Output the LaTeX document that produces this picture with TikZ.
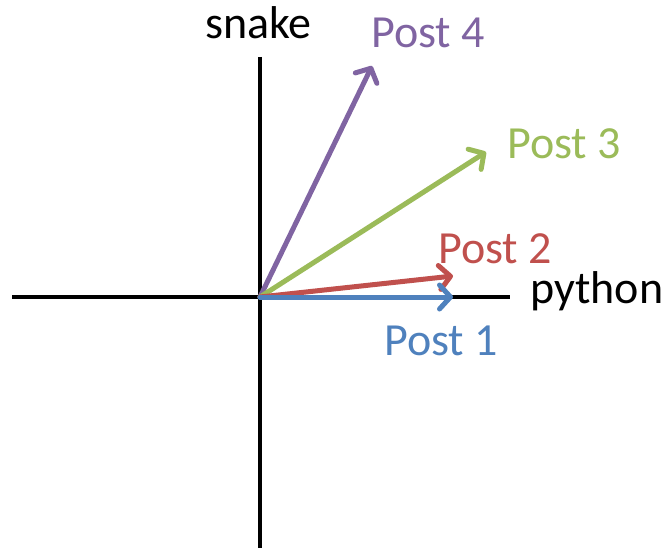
\documentclass[tikz,border=0pt]{standalone}
\usepackage{fontspec}
\setmainfont{Carlito}
\usetikzlibrary{arrows.meta}
\definecolor{pblue}{HTML}{4F81BD}
\definecolor{pred}{HTML}{C0504D}
\definecolor{pgreen}{HTML}{9BBB59}
\definecolor{ppurple}{HTML}{8064A2}
\tikzset{
  axis/.style={line width=4.5pt, black},
  vec/.style={line width=5pt, line cap=round, -{Straight Barb[length=11pt, width=24pt, round, line width=5pt]}},
  lbl/.style={anchor=base west, inner sep=0pt, font=\fontsize{46}{50}\selectfont}
}
\begin{document}
\begin{tikzpicture}[x=1pt, y=-1pt]
\useasboundingbox (0,0) rectangle (668,548);
\coordinate (O) at (260,297);
\coordinate (xl) at (12,297);
\coordinate (xr) at (510,297);
\coordinate (yt) at (260,57);
\coordinate (yb) at (260,548);
\coordinate (p1) at (453,297);
\coordinate (p2) at (453,276);
\coordinate (p3) at (486,152);
\coordinate (p4) at (372,66);
\draw[axis] (xl) -- (xr);
\draw[axis] (yt) -- (yb);
\draw[vec, ppurple] (O) -- (p4);
\draw[vec, pgreen] (O) -- (p3);
\draw[vec, pred] (O) -- (p2);
\draw[vec, pblue] (O) -- (p1);
\node[lbl] (snake) at (205,39) {snake};
\node[lbl] (python) at (530,303) {python};
\node[lbl, text=ppurple] (l4) at (371,48) {Post 4};
\node[lbl, text=pgreen] (l3) at (507,158) {Post 3};
\node[lbl, text=pred] (l2) at (438,263) {Post 2};
\node[lbl, text=pblue] (l1) at (384,355) {Post 1};
\end{tikzpicture}
\end{document}
